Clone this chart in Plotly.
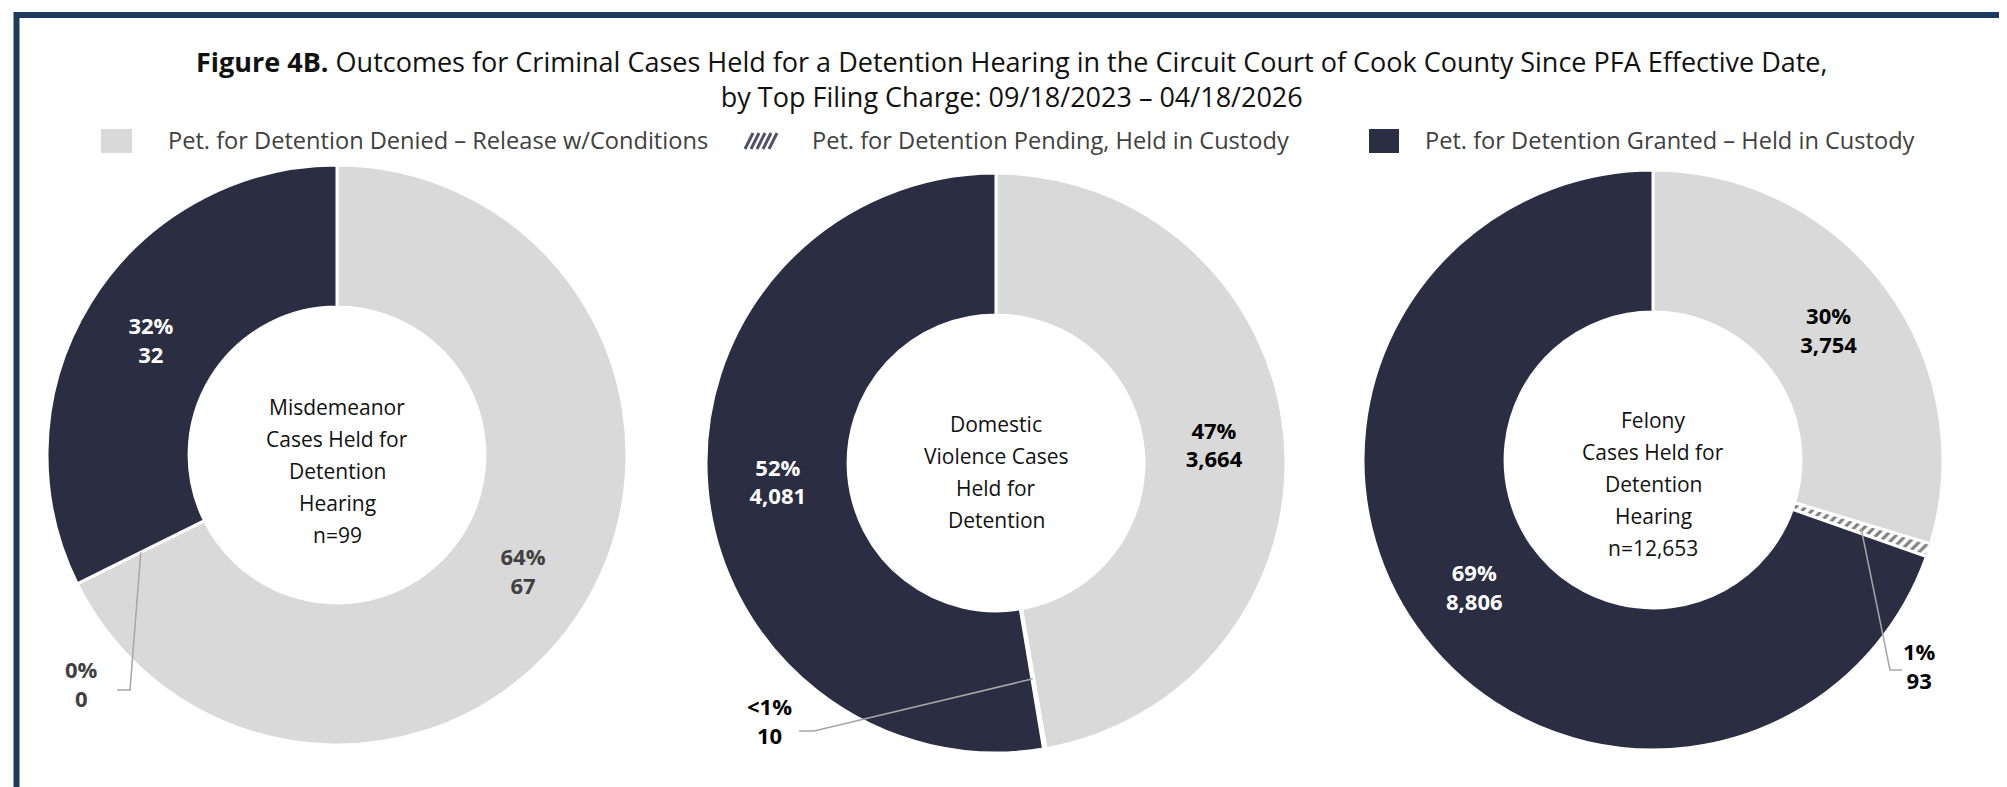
import math
import plotly.graph_objects as go

# ---------------- data ----------------
categories = ["Pet. for Detention Denied \u2013 Release w/Conditions",
              "Pet. for Detention Pending, Held in Custody",
              "Pet. for Detention Granted \u2013 Held in Custody"]
misdemeanor_values = [67, 0, 32]
domestic_values = [3664, 10, 4081]
felony_values = [3754, 93, 8806]
misdemeanor_pct = ["64%", "0%", "32%"]
domestic_pct = ["47%", "<1%", "52%"]
felony_pct = ["30%", "1%", "69%"]
center_titles = [["Misdemeanor", "Cases Held for", "Detention", "Hearing", "n=99"],
                 ["Domestic", "Violence Cases", "Held for", "Detention"],
                 ["Felony", "Cases Held for", "Detention", "Hearing", "n=12,653"]]
title_text = ("<b>Figure 4B.</b> Outcomes for Criminal Cases Held for a Detention Hearing in the "
              "Circuit Court of Cook County Since PFA Effective Date,<br>"
              "by Top Filing Charge: 09/18/2023 \u2013 04/18/2026")

# ---------------- layout constants ----------------
W, H = 2007, 787
FONT = "Open Sans"
LIGHT, DARK = "#D9D9D9", "#2B2D42"
R = 290
HOLE = 0.51
centers = [(329, 447), (988, 455), (1645, 452)]
center_text_dy = [16, 9, 24]
CENTER_LINE = 32
label_colors = [["#404040", "#404040", "white"],
                ["black", "black", "white"],
                ["black", "black", "white"]]
small_idx = 1
# elbow point, end of leader, label position (px)
leader_geo = [((122, 682), (109, 682), (73, 675)),
              ((806, 723), (791, 723), (761, 712)),
              ((1882, 662), (1894, 662), (1911, 657))]
title_y = 71
legend_y = 132
legend_text_x = [158, 802, 1415]


def px(x):
    return x / W


def py(y):
    return 1 - y / H


fig = go.Figure()
series = [(misdemeanor_values, misdemeanor_pct), (domestic_values, domestic_pct),
          (felony_values, felony_pct)]
shapes = []
annotations = []

for k, (vals, pcts) in enumerate(series):
    cx, cy = centers[k]
    texts = [f"{p}<br>{v:,}" for p, v in zip(pcts, vals)]
    positions = ["none" if i == small_idx else "inside" for i in range(3)]
    fig.add_trace(go.Pie(
        labels=categories, values=vals, sort=False, direction="clockwise", rotation=0,
        hole=HOLE, text=texts, textinfo="text", textposition=positions,
        insidetextorientation="horizontal",
        textfont=dict(family=FONT, size=22, color=label_colors[k], weight="bold"),
        marker=dict(colors=[LIGHT, "white", DARK], line=dict(color="white", width=3),
                    pattern=dict(shape=["", "/", ""], fgcolor="black", fillmode="overlay",
                                 size=7, solidity=0.45)),
        domain=dict(x=[px(cx - R), px(cx + R)], y=[py(cy + R), py(cy - R)]),
        showlegend=False, hoverinfo="label+value",
    ))
    # center caption, one annotation per line
    lines = center_titles[k]
    n = len(lines)
    for j, line in enumerate(lines):
        yy = cy + center_text_dy[k] + (j - (n - 1) / 2) * CENTER_LINE
        annotations.append(dict(x=px(cx), y=py(yy), xref="paper", yref="paper",
                                text=line, showarrow=False, xanchor="center",
                                yanchor="middle", font=dict(family=FONT, size=21, color="#111111")))
    # leader line for the small slice, start point computed from the data
    total = sum(vals)
    start = sum(vals[:small_idx]) / total * 360
    mid = start + vals[small_idx] / total * 180
    rm = R * (1 + HOLE) / 2
    sx = cx + rm * math.sin(math.radians(mid))
    sy = cy - rm * math.cos(math.radians(mid))
    (ex, ey), (fx, fy), (lx, ly) = leader_geo[k]
    shapes.append(dict(type="path", xref="paper", yref="paper",
                       path=f"M {px(sx)},{py(sy)} L {px(ex)},{py(ey)} L {px(fx)},{py(fy)}",
                       line=dict(color="#A6A6A6", width=1.5)))
    annotations.append(dict(x=px(lx), y=py(ly), xref="paper", yref="paper",
                            text=texts[small_idx], showarrow=False, xanchor="center",
                            yanchor="middle",
                            font=dict(family=FONT, size=22, color=label_colors[k][small_idx],
                                      weight="bold")))

# ---------------- title ----------------
annotations.append(dict(x=0.5, y=py(title_y), xref="paper", yref="paper", text=title_text,
                        showarrow=False, xanchor="center", yanchor="middle",
                        font=dict(family=FONT, size=27, color="#111111")))

# ---------------- custom legend ----------------
shapes.append(dict(type="rect", xref="paper", yref="paper", x0=px(93), x1=px(124),
                   y0=py(145), y1=py(121), fillcolor=LIGHT, line=dict(width=0)))
shapes.append(dict(type="rect", xref="paper", yref="paper", x0=px(1361), x1=px(1391),
                   y0=py(145), y1=py(121), fillcolor=DARK, line=dict(width=0)))
for i in range(5):
    x0 = 737 + i * 6
    shapes.append(dict(type="line", xref="paper", yref="paper",
                       x0=px(x0), y0=py(141), x1=px(x0 + 8), y1=py(125),
                       line=dict(color="#50506A", width=3)))
for i, name in enumerate(categories):
    annotations.append(dict(x=px(legend_text_x[i]), y=py(legend_y), xref="paper", yref="paper",
                            text=name, showarrow=False, xanchor="left", yanchor="middle",
                            font=dict(family=FONT, size=23.6, color="#404040")))

# frame
shapes.append(dict(type="path", xref="paper", yref="paper",
                   path=f"M {px(8.5)},{py(H + 5)} L {px(8.5)},{py(7)} L {px(1998.5)},{py(7)} "
                        f"L {px(1998.5)},{py(H + 5)}",
                   line=dict(color="#1C3A5C", width=6)))

fig.update_layout(
    width=W, height=H, margin=dict(l=0, r=0, t=0, b=0),
    paper_bgcolor="white", plot_bgcolor="white",
    shapes=shapes, annotations=annotations,
)

fig.write_html("out.html")
